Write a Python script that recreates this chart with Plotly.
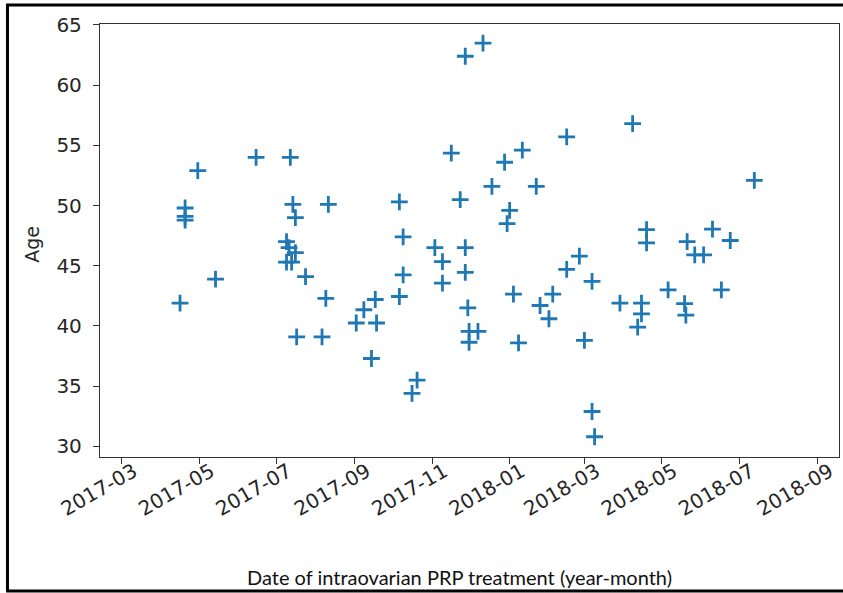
import plotly.graph_objects as go

dates = [
    "2017-04-16", "2017-04-20", "2017-04-20", "2017-04-20", "2017-04-30",
    "2017-05-14", "2017-06-15", "2017-07-09", "2017-07-09", "2017-07-11",
    "2017-07-12", "2017-07-13", "2017-07-14", "2017-07-16", "2017-07-16",
    "2017-07-17", "2017-07-24", "2017-08-06", "2017-08-09", "2017-08-11",
    "2017-09-02", "2017-09-08", "2017-09-14", "2017-09-17", "2017-09-18",
    "2017-10-06", "2017-10-06", "2017-10-09", "2017-10-09", "2017-10-16",
    "2017-10-20", "2017-11-03", "2017-11-09", "2017-11-09", "2017-11-16",
    "2017-11-23", "2017-11-27", "2017-11-27", "2017-11-27", "2017-11-29",
    "2017-11-30", "2017-11-30", "2017-12-07", "2017-12-11", "2017-12-18",
    "2017-12-28", "2017-12-30", "2018-01-01", "2018-01-04", "2018-01-08",
    "2018-01-11", "2018-01-22", "2018-01-25", "2018-02-01", "2018-02-04",
    "2018-02-15", "2018-02-15", "2018-02-25", "2018-03-01", "2018-03-07",
    "2018-03-07", "2018-03-09", "2018-03-29", "2018-04-08", "2018-04-12",
    "2018-04-15", "2018-04-15", "2018-04-19", "2018-04-19", "2018-05-06",
    "2018-05-19", "2018-05-20", "2018-05-21", "2018-05-27", "2018-06-03",
    "2018-06-10", "2018-06-17", "2018-06-24", "2018-07-13",
]
ages = [
    41.9, 49.8, 49.1, 48.8, 52.9,
    43.9, 54.0, 47.0, 45.3, 46.5,
    54.0, 45.3, 50.1, 49.0, 46.1,
    39.1, 44.1, 39.1, 42.3, 50.1,
    40.25, 41.35, 37.3, 42.2, 40.25,
    50.3, 42.45, 47.4, 44.25, 34.4,
    35.5, 46.5, 45.35, 43.56, 54.35,
    50.5, 62.4, 46.5, 44.45, 41.5,
    39.55, 38.65, 39.55, 63.5, 51.6,
    53.6, 48.5, 49.6, 42.65, 38.6,
    54.6, 51.6, 41.7, 40.6, 42.65,
    55.7, 44.7, 45.8, 38.8, 43.7,
    32.9, 30.8, 41.9, 56.8, 39.9,
    41.9, 41.0, 48.0, 46.9, 43.0,
    41.85, 40.9, 47.0, 45.9, 45.9,
    48.05, 43.0, 47.1, 52.1,
]

x_title = "Date of intraovarian PRP treatment (year-month)"
y_title = "Age"

fig = go.Figure()
fig.add_trace(go.Scatter(
    x=dates, y=ages, mode="markers",
    marker=dict(symbol="cross-thin", size=12, color="#1f77b4",
                line=dict(width=2.8, color="#1f77b4")),
    showlegend=False,
))

axis_common = dict(
    showline=True, linecolor="#333333", linewidth=1.3, mirror=True,
    ticks="outside", ticklen=6, tickwidth=1.3, tickcolor="#333333",
    showgrid=False, zeroline=False,
)

fig.update_xaxes(
    type="date", range=["2017-02-11T21:00", "2018-09-17T19:00"],
    tick0="2017-03-01", dtick="M2", tickformat="%Y-%m", tickangle=-30,
    tickfont=dict(family="DejaVu Sans", size=20, color="#262626"),
    ticklabelshift=12, ticklabelstandoff=-12,
    **axis_common,
)
fig.update_yaxes(
    range=[29.12, 65.08], tick0=30, dtick=5,
    tickfont=dict(family="DejaVu Sans", size=20, color="#262626"),
    ticklabelstandoff=7,
    **axis_common,
)

fig.add_annotation(
    text=x_title, xref="paper", yref="paper", x=0.487, y=-0.277,
    xanchor="center", yanchor="middle", showarrow=False,
    font=dict(family="Lato", size=20, color="#111111"),
)
fig.add_annotation(
    text=y_title, xref="paper", yref="paper", x=-0.092, y=0.49,
    xanchor="center", yanchor="middle", showarrow=False, textangle=-90,
    font=dict(family="DejaVu Sans", size=19, color="#262626"),
)

# outer frame (left, top, bottom)
frame = dict(type="line", xref="paper", yref="paper",
             line=dict(color="black", width=3))
fig.add_shape(x0=-0.1252, x1=-0.1252, y0=1.0462, y1=-0.3095, **frame)
fig.add_shape(x0=-0.127, x1=1.01, y0=1.0439, y1=1.0439, **frame)
fig.add_shape(x0=-0.127, x1=1.01, y0=-0.3095, y1=-0.3095, **frame)

fig.update_layout(
    width=843, height=593,
    margin=dict(l=100, r=4, t=24, b=136),
    plot_bgcolor="white", paper_bgcolor="white",
)

fig.write_html("out.html")
